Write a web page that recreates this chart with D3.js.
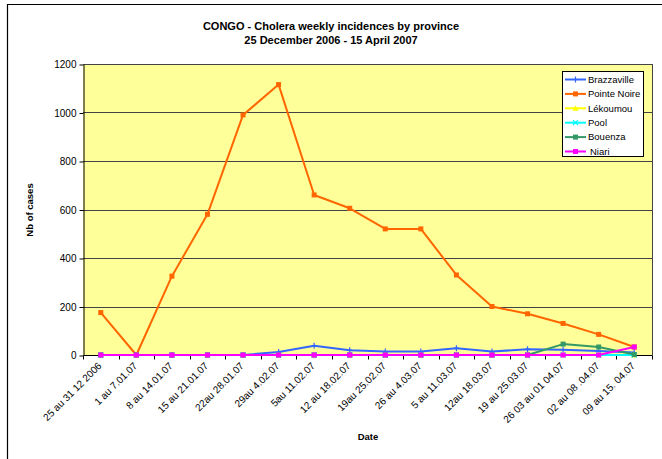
<!DOCTYPE html>
<html>
<head>
<meta charset="utf-8">
<script src="https://cdn.jsdelivr.net/npm/d3@7"></script>
<style>
  html, body { margin: 0; padding: 0; background: #fff; }
  svg { display: block; font-family: Arial, "Liberation Sans", sans-serif; }
</style>
</head>
<body>
<svg id="chart" width="662" height="459"></svg>
<script>
// Weekly periods (x categories)
const weeks = [
  "25 au 31 12 2006", "1 au 7.01.07", "8 au 14.01.07", "15 au 21.01.07",
  "22au 28.01.07", "29au 4.02.07", "5au 11.02.07", "12 au 18.02.07",
  "19au 25.02.07", "26 au 4.03.07", "5 au 11.03.07", "12au 18.03.07",
  "19 au 25.03.07", "26 03 au 01 04.07", "02 au 08 .04.07", "09 au 15. 04.07"
];

// Weekly cases per province
const brazzaville = [0, 0, 0, 0, 0, 12, 38, 20, 14, 14, 28, 14, 24, 22, 16, 10];
const pointeNoire = [175, 0, 325, 580, 990, 1115, 660, 605, 520, 520, 330, 200, 170, 130, 85, 33];
const lekoumou    = [0, 0, 0, 0, 0, 0, 0, 0, 0, 0, 0, 0, 0, 0, 0, 0];
const pool        = [0, 0, 0, 0, 0, 0, 0, 0, 0, 0, 0, 0, 0, 0, 0, 0];
const bouenza     = [0, 0, 0, 0, 0, 0, 0, 0, 0, 0, 0, 0, 0, 45, 33, 2];
const niari       = [0, 0, 0, 0, 0, 0, 0, 0, 0, 0, 0, 0, 0, 0, 0, 33];

const yTicks = [0, 200, 400, 600, 800, 1000, 1200];

const series = [
  { name: "Brazzaville", values: brazzaville, color: "#3366FF", marker: "plus" },
  { name: "Pointe Noire", values: pointeNoire, color: "#FF6600", marker: "square" },
  { name: "Lékoumou", values: lekoumou, color: "#FFFF00", marker: "triangle" },
  { name: "Pool", values: pool, color: "#00FFFF", marker: "cross" },
  { name: "Bouenza", values: bouenza, color: "#339966", marker: "square" },
  { name: "Niari", values: niari, color: "#FF00FF", marker: "square" }
];

const svg = d3.select("#chart");
const plot = { left: 83, right: 652, top: 64, bottom: 355 };

// chart frame
svg.append("line").attr("x1", 7.5).attr("x2", 7.5).attr("y1", 4).attr("y2", 459)
  .attr("stroke", "#000").attr("stroke-width", 1.2);
svg.append("line").attr("x1", 7).attr("x2", 662).attr("y1", 4.5).attr("y2", 4.5)
  .attr("stroke", "#000").attr("stroke-width", 1.2);

const x = d3.scaleBand().domain(weeks).range([plot.left, plot.right]).padding(0);
const y = d3.scaleLinear().domain([0, 1200]).range([plot.bottom, plot.top]);
const cx = d => x(d) + x.bandwidth() / 2;

// plot background
svg.append("rect")
  .attr("x", plot.left).attr("y", plot.top)
  .attr("width", plot.right - plot.left).attr("height", plot.bottom - plot.top)
  .attr("fill", "#FFFF99");

// horizontal gridlines
svg.append("g").selectAll("line").data(yTicks.filter(t => t > 0)).join("line")
  .attr("x1", plot.left).attr("x2", plot.right)
  .attr("y1", d => Math.round(y(d)) + 0.5).attr("y2", d => Math.round(y(d)) + 0.5)
  .attr("stroke", "#444").attr("stroke-width", 1);

// right edge of the plot area
svg.append("line").attr("x1", plot.right + 0.5).attr("x2", plot.right + 0.5)
  .attr("y1", plot.top).attr("y2", plot.bottom).attr("stroke", "#444");

// y axis
const yAxis = svg.append("g")
  .attr("transform", `translate(${plot.left + 0.5},0.5)`)
  .call(d3.axisLeft(y).tickValues(yTicks).tickFormat(d3.format("d"))
    .tickSize(4).tickSizeOuter(0).tickPadding(3));
yAxis.select(".domain").attr("stroke", "#000");
yAxis.selectAll(".tick line").attr("stroke", "#000");
yAxis.selectAll("text").attr("font-size", 10).attr("fill", "#000")
  .attr("font-family", "Arial, 'Liberation Sans', sans-serif");

// x axis with ticks at category boundaries
const xg = svg.append("g").attr("transform", `translate(0.5,${plot.bottom + 0.5})`);
xg.append("line").attr("x1", plot.left).attr("x2", plot.right).attr("y1", 0).attr("y2", 0)
  .attr("stroke", "#000");
const bounds = weeks.map(d => x(d)).concat([plot.right]);
xg.selectAll("line.tk").data(bounds).join("line").attr("class", "tk")
  .attr("x1", d => Math.round(d)).attr("x2", d => Math.round(d))
  .attr("y1", 0).attr("y2", 4).attr("stroke", "#000");
xg.selectAll("text").data(weeks).join("text")
  .attr("transform", d => `translate(${cx(d) + 1},${11}) rotate(-45)`)
  .attr("text-anchor", "end")
  .attr("font-size", 10)
  .attr("fill", "#000")
  .text(d => d);

// axis titles
svg.append("text").attr("x", 368).attr("y", 440).attr("text-anchor", "middle")
  .attr("font-size", 9.5).attr("font-weight", "bold").text("Date");
svg.append("text").attr("transform", "translate(33,210) rotate(-90)")
  .attr("text-anchor", "middle").attr("font-size", 9.5).attr("font-weight", "bold")
  .text("Nb of cases");

// chart title
svg.append("text").attr("x", 331).attr("y", 30).attr("text-anchor", "middle")
  .attr("font-size", 11).attr("font-weight", "bold").text("CONGO - Cholera weekly incidences by province");
svg.append("text").attr("x", 331).attr("y", 44).attr("text-anchor", "middle")
  .attr("font-size", 11).attr("font-weight", "bold").text("25 December 2006 - 15 April 2007");

// marker drawing
function drawMarker(g, type, px, py, color) {
  if (type === "square") {
    g.append("rect").attr("x", px - 2.5).attr("y", py - 2.5).attr("width", 5).attr("height", 5)
      .attr("fill", color);
  } else if (type === "triangle") {
    g.append("path").attr("d", `M${px},${py - 3}L${px + 3},${py + 2.5}L${px - 3},${py + 2.5}Z`)
      .attr("fill", color);
  } else if (type === "plus") {
    g.append("path").attr("d", `M${px},${py - 3}V${py + 3}M${px - 2.5},${py}H${px + 2.5}`)
      .attr("stroke", color).attr("stroke-width", 1.2);
  } else if (type === "cross") {
    g.append("path").attr("d", `M${px - 2.5},${py - 2.5}L${px + 2.5},${py + 2.5}M${px - 2.5},${py + 2.5}L${px + 2.5},${py - 2.5}`)
      .attr("stroke", color).attr("stroke-width", 1.2);
  }
}

const line = d3.line().x((d, i) => cx(weeks[i])).y(d => y(d));

series.forEach(s => {
  const g = svg.append("g");
  g.append("path").datum(s.values).attr("d", line)
    .attr("fill", "none").attr("stroke", s.color).attr("stroke-width", 2)
    .attr("stroke-linejoin", "round");
  s.values.forEach((v, i) => drawMarker(g, s.marker, cx(weeks[i]), y(v), s.color));
});

// legend
const lg = svg.append("g");
lg.append("rect").attr("x", 562.5).attr("y", 71.5).attr("width", 81).attr("height", 85)
  .attr("fill", "#fff").attr("stroke", "#000").attr("stroke-width", 1);
series.forEach((s, i) => {
  const ly = 79.5 + i * 14.4;
  lg.append("line").attr("x1", 565).attr("x2", 586).attr("y1", ly).attr("y2", ly)
    .attr("stroke", s.color).attr("stroke-width", 2);
  drawMarker(lg, s.marker, 575.5, ly, s.color);
  lg.append("text").attr("x", s.name === "Niari" ? 590 : 588).attr("y", ly + 3.3)
    .attr("font-size", 9.5).attr("fill", "#000").text(s.name);
});
</script>
</body>
</html>
